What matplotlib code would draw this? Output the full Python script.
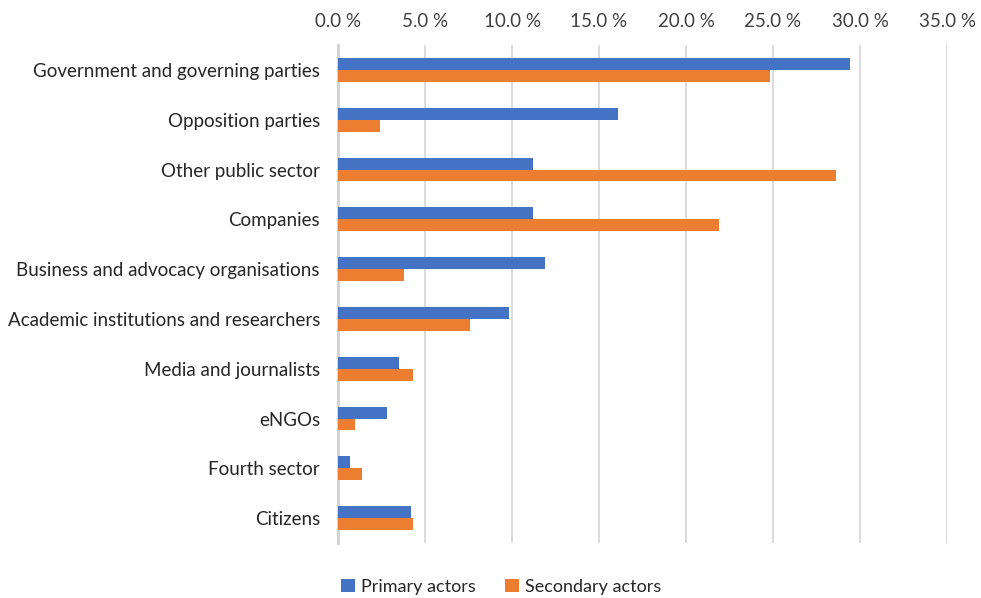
import numpy as np
import matplotlib
matplotlib.use("Agg")
import matplotlib.pyplot as plt
from matplotlib.ticker import FuncFormatter

plt.rcParams['font.family'] = ['Lato', 'DejaVu Sans']

# actor groups and shares (%)
categories = ["Government and governing parties", "Opposition parties",
	"Other public sector", "Companies", "Business and advocacy organisations",
	"Academic institutions and researchers", "Media and journalists",
	"eNGOs", "Fourth sector", "Citizens"]
primary = [29.4, 16.1, 11.2, 11.2, 11.9, 9.8, 3.5, 2.8, 0.7, 4.2]
secondary = [24.8, 2.4, 28.6, 21.9, 3.8, 7.6, 4.3, 1.0, 1.4, 4.3]
xticks = [0, 5, 10, 15, 20, 25, 30, 35]

blue = "#4472C4"
orange = "#ED7D31"

fig = plt.figure(figsize=(9.81, 5.98), dpi=100)
ax = fig.add_axes([338/981, 1-543/598, (947-338)/981, (543-45)/598])

y = np.arange(len(categories))
h = 0.24
ax.barh(y - h/2, primary, height=h, color=blue, label="Primary actors", zorder=3)
ax.barh(y + h/2, secondary, height=h, color=orange, label="Secondary actors", zorder=3)

ax.set_ylim(len(categories) - 0.5, -0.5)
ax.set_xlim(0, 35)
ax.set_xticks(xticks)
ax.xaxis.set_major_formatter(FuncFormatter(lambda v, p: f"{v:.1f} %"))
ax.xaxis.tick_top()
ax.tick_params(axis='x', length=0, pad=11, labelsize=13.5, colors="#404040")
ax.tick_params(axis='y', length=0, pad=13, labelsize=13.5, colors="#262626")
ax.set_yticks(y)
ax.set_yticklabels(categories)

ax.grid(axis='x', color="#d9d9d9", linewidth=1.3, zorder=0)
for s in ["top", "right", "bottom"]:
	ax.spines[s].set_visible(False)
ax.spines["left"].set_color("#d0d0d0")
ax.spines["left"].set_linewidth(2)

handles, labels = ax.get_legend_handles_labels()
fig.legend(handles, labels, loc="center", bbox_to_anchor=(0.511, 1-587/598), ncol=2,
	frameon=False, fontsize=13, handlelength=0.75, handleheight=0.75,
	handletextpad=0.35, columnspacing=1.6, labelcolor="#262626")

fig.savefig("out.png", dpi=100)
